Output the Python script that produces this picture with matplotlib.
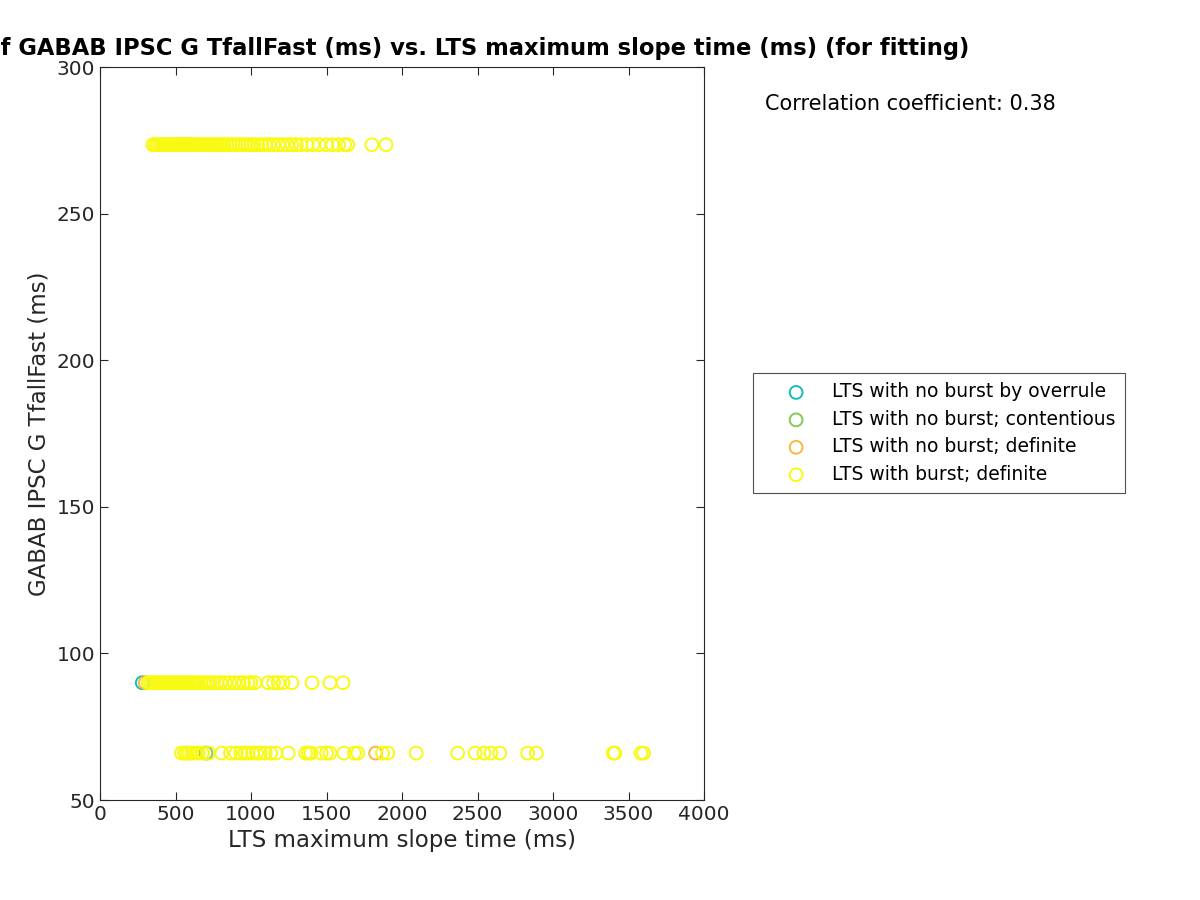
import matplotlib
matplotlib.use("Agg")
import matplotlib.pyplot as plt

# GABAB IPSC G TfallFast levels (ms)
y_high = 273.5
y_mid = 90.0
y_low = 66.0

# LTS maximum slope time (ms) for each group
overrule_x = [280]
overrule_y = [y_mid]

contentious_x = [702]
contentious_y = [y_low]

nob_def_x = [300, 1825]
nob_def_y = [y_mid, y_low]

top_x = [350, 365, 380, 395, 410, 420, 430, 440, 452, 465, 475, 485, 495, 505, 515,
         525, 535, 545, 555, 565, 575, 585, 595, 605, 615, 625, 640, 655, 670, 685,
         700, 715, 730, 745, 760, 775, 790, 805, 820, 840, 860, 880, 900, 920, 940,
         960, 980, 1000, 1020, 1045, 1070, 1095, 1120, 1150, 1180, 1210, 1240, 1270,
         1300, 1330, 1370, 1410, 1450, 1500, 1540, 1580, 1620, 1640, 1800, 1894]
mid_x = [320, 335, 350, 365, 380, 395, 410, 425, 440, 455, 470, 485, 500, 515, 530,
         545, 560, 575, 590, 605, 620, 635, 650, 670, 690, 710, 730, 750, 775, 800,
         830, 860, 890, 920, 950, 980, 1000, 1026, 1113, 1150, 1180, 1212, 1271,
         1404, 1523, 1609]
low_x = [540, 560, 575, 590, 609, 630, 650, 678, 720, 806, 864, 900, 933, 960, 980,
         1010, 1037, 1060, 1094, 1130, 1165, 1246, 1362, 1380, 1397, 1465, 1500,
         1523, 1616, 1685, 1708, 1871, 1906, 2094, 2369, 2485, 2543, 2589, 2647,
         2832, 2889, 3399, 3410, 3583, 3600]
burst_x = top_x + mid_x + low_x
burst_y = [y_high] * len(top_x) + [y_mid] * len(mid_x) + [y_low] * len(low_x)

labels = ["LTS with no burst by overrule", "LTS with no burst; contentious",
          "LTS with no burst; definite", "LTS with burst; definite"]
colors = ["#12beb9", "#80cc59", "#fcb73e", "#f8fa14"]
corr_coef = 0.38

fig = plt.figure(figsize=(12, 9), dpi=100)
ax = fig.add_axes([100 / 1200, 100 / 900, 604 / 1200, 733 / 900])

groups = [(overrule_x, overrule_y), (contentious_x, contentious_y),
          (nob_def_x, nob_def_y), (burst_x, burst_y)]
for (xs, ys), lab, col in zip(groups, labels, colors):
    ax.scatter(xs, ys, s=85, facecolors="none", edgecolors=col, linewidths=1.4, label=lab)

ax.set_xlim(0, 4000)
ax.set_ylim(50, 300)
ax.set_xticks(range(0, 4001, 500))
ax.set_yticks(range(50, 301, 50))
ax.tick_params(direction="in", top=True, right=True, labelsize=14.5, colors="#262626",
               length=6, width=0.8)
for sp in ax.spines.values():
    sp.set_color("#262626")
    sp.set_linewidth(0.8)

ax.set_xlabel("LTS maximum slope time (ms)", fontsize=16.5, color="#262626")
ax.set_ylabel("GABAB IPSC G TfallFast (ms)", fontsize=16.5, color="#262626")
ax.set_title("Correlation of GABAB IPSC G TfallFast (ms) vs. LTS maximum slope time (ms) (for fitting)",
             fontsize=16.3, fontweight="bold", pad=9)

fig.text(765 / 1200, 1 - 104 / 900, f"Correlation coefficient: {corr_coef:.2f}",
         fontsize=15, va="center", ha="left")

leg = ax.legend(loc="center left", bbox_to_anchor=(753 / 1200, 1 - 433 / 900),
                bbox_transform=fig.transFigure, borderaxespad=0, fontsize=13.5,
                frameon=True, fancybox=False, edgecolor="#262626", borderpad=0.5,
                handletextpad=0.1, labelspacing=0.45, handlelength=3.6)
leg.get_frame().set_linewidth(0.8)

fig.savefig("out.png", dpi=100)
